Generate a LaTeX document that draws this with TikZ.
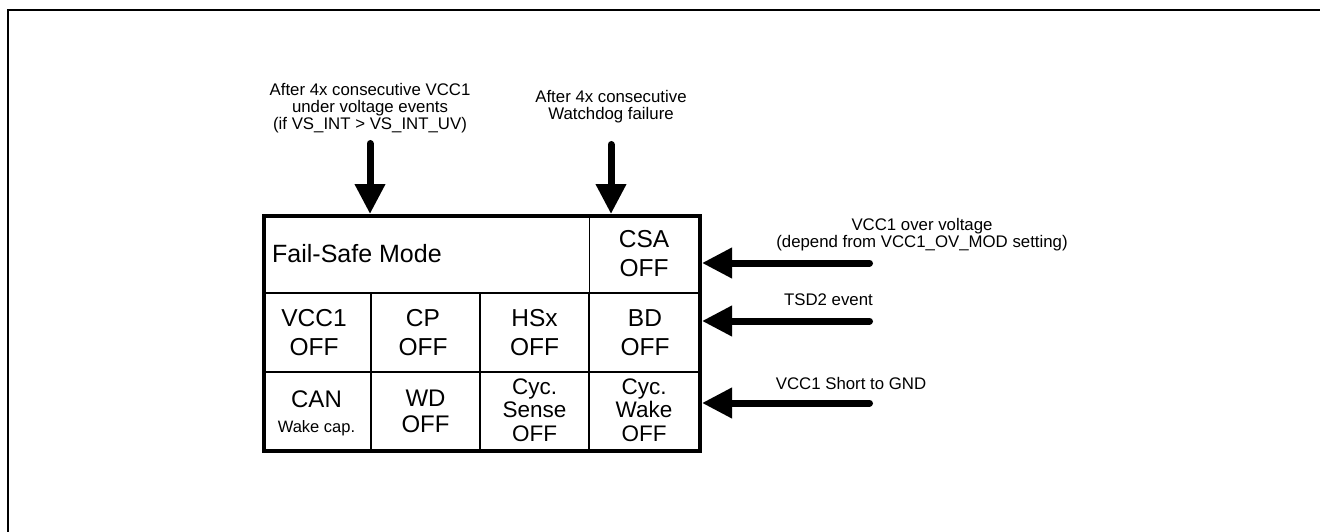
\documentclass[tikz,border=0pt]{standalone}
\usepackage{fontspec}
\setmainfont{Liberation Sans}
\usetikzlibrary{arrows.meta}
\tikzset{
  lbl/.style={align=center, inner sep=0pt, font=\fontsize{16.8}{16.7}\selectfont},
  bigcell/.style={align=center, inner sep=0pt, font=\fontsize{24.5}{29}\selectfont},
  smallcell/.style={align=center, inner sep=0pt, font=\fontsize{22.5}{23.5}\selectfont},
  evarrow/.style={line width=7pt, line cap=round, -{Triangle[width=29pt,length=30pt]}},
  grid/.style={line width=1.5pt},
}
\begin{document}
\begin{tikzpicture}[x=1pt,y=-1pt]
\useasboundingbox (0,0) rectangle (1320,532);
% outer frame (only top and left visible)
\draw[line width=1.5pt] (8,540) -- (8,10) -- (1330,10);
% table
\node[draw, line width=4pt, minimum width=436pt, minimum height=235pt, inner sep=0pt, anchor=north west] (tbl) at (262,214) {};
\coordinate (c1) at (371,293);
\coordinate (c2) at (480,293);
\coordinate (c3) at (589,214);
\coordinate (r1) at (262,293);
\coordinate (r2) at (262,372);
\draw[grid] (r1) -- (r1 -| tbl.east);
\draw[grid] (r2) -- (r2 -| tbl.east);
\draw[line width=1pt] (c3) -- (c3 |- r1);
\draw[grid] (c1) -- (c1 |- tbl.south);
\draw[grid] (c2) -- (c2 |- tbl.south);
\draw[grid] (c3 |- r1) -- (c3 |- tbl.south);
% cells
\node[anchor=west, inner sep=0pt, font=\fontsize{25}{29}\selectfont] (fsm) at (272,254) {Fail-Safe Mode};
\node[bigcell] (csa) at (644,253.5) {CSA\\OFF};
\node[bigcell] (vcc) at (314,332.5) {VCC1\\OFF};
\node[bigcell] (cp) at (423,332.5) {CP\\OFF};
\node[bigcell] (hsx) at (534.5,332.5) {HSx\\OFF};
\node[bigcell] (bd) at (645,332.5) {BD\\OFF};
\node[anchor=base, inner sep=0pt, font=\fontsize{24}{24}\selectfont] (can) at (316.5,407.5) {CAN};
\node[anchor=base, inner sep=0pt, font=\fontsize{16.5}{16.5}\selectfont] (wake) at (316.5,432) {Wake cap.};
\node[align=center, inner sep=0pt, font=\fontsize{24}{26}\selectfont] (wd) at (425.5,411) {WD\\OFF};
\node[smallcell] (cs) at (534.5,410) {Cyc.\\Sense\\OFF};
\node[smallcell] (cw) at (644,410) {Cyc.\\Wake\\OFF};
% top events
\node[lbl] (l1) at (370,108.3) {After 4x consecutive VCC1\\under voltage events\\(if VS\_INT > VS\_INT\_UV)};
\node[lbl] (l2) at (611,106.5) {After 4x consecutive\\Watchdog failure};
\coordinate (t1) at (370,143.5);
\coordinate (t2) at (611,144.5);
\draw[evarrow] (t1) -- (tbl.north -| t1);
\draw[evarrow] (t2) -- (tbl.north -| t2);
% right events
\node[lbl] (l3) at (922,235) {VCC1 over voltage\\(depend from VCC1\_OV\_MOD setting)};
\node[lbl, anchor=east] (l4) at (873,300) {TSD2 event};
\node[lbl] (l5) at (851,383) {VCC1 Short to GND};
\coordinate (e1) at (869.5,263);
\coordinate (e2) at (869.5,321);
\coordinate (e3) at (869.5,403);
\draw[evarrow] (e1) -- (e1 -| tbl.east);
\draw[evarrow] (e2) -- (e2 -| tbl.east);
\draw[evarrow] (e3) -- (e3 -| tbl.east);
\end{tikzpicture}
\end{document}
